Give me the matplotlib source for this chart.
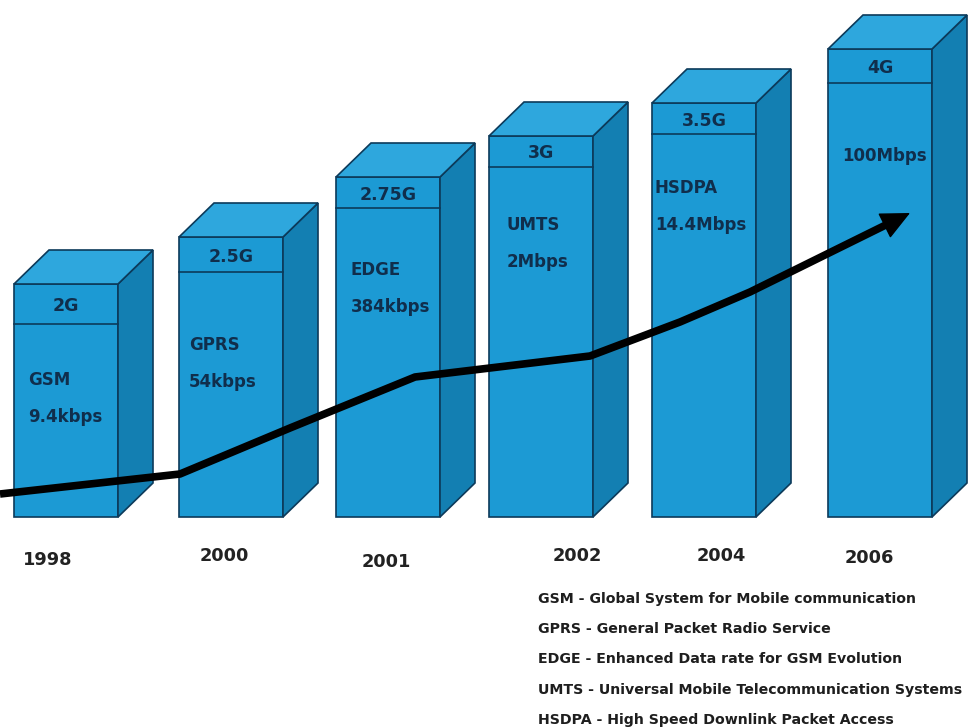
import numpy as np
import matplotlib.pyplot as plt
from matplotlib.patches import Polygon

years = ['1998', '2000', '2001', '2002', '2004', '2006']
generations = ['2G', '2.5G', '2.75G', '3G', '3.5G', '4G']
techs = ['GSM', 'GPRS', 'EDGE', 'UMTS', 'HSDPA', '']
speeds = ['9.4kbps', '54kbps', '384kbps', '2Mbps', '14.4Mbps', '100Mbps']
bar_heights = [233, 280, 340, 381, 414, 468]

trend_x = [0, 180, 290, 415, 590, 680, 750, 910]
trend_y = [23, 43, 89, 140, 161, 195, 225, 304]

legend_lines = [
    'GSM - Global System for Mobile communication',
    'GPRS - General Packet Radio Service',
    'EDGE - Enhanced Data rate for GSM Evolution',
    'UMTS - Universal Mobile Telecommunication Systems',
    'HSDPA - High Speed Downlink Packet Access',
]

# layout (pixels, y measured up from the bar base)
bar_left = [14, 179, 336, 489, 652, 828]
header_h = [40, 35, 31, 31, 31, 34]
text_dx = [14, 10, 15, 18, 3, 14]
text_dy = [96, 108, 93, 89, 85, 107]
year_x = [48, 224, 386, 577, 721, 869]
year_y = [-43, -39, -45, -39, -39, -41]
width = 104
depth_x, depth_y = 35, 34

front_c = '#1c9ad4'
top_c = '#2ea7dd'
side_c = '#137fb2'
edge_c = '#0c3a5a'
text_c = '#102e4c'

fig = plt.figure(figsize=(9.68, 7.28), dpi=100)
ax = fig.add_axes([0, 0, 1, 1])
ax.set_xlim(0, 968)
ax.set_ylim(517 - 728, 517)
ax.axis('off')

for i in range(len(years)):
    xl = bar_left[i]
    xr = xl + width
    h = bar_heights[i]
    front = Polygon([(xl, 0), (xr, 0), (xr, h), (xl, h)], closed=True,
                    facecolor=front_c, edgecolor=edge_c, lw=1.2, zorder=2)
    side = Polygon([(xr, 0), (xr + depth_x, depth_y), (xr + depth_x, h + depth_y), (xr, h)],
                   closed=True, facecolor=side_c, edgecolor=edge_c, lw=1.2, zorder=2)
    top = Polygon([(xl, h), (xl + depth_x, h + depth_y), (xr + depth_x, h + depth_y), (xr, h)],
                  closed=True, facecolor=top_c, edgecolor=edge_c, lw=1.2, zorder=2)
    for p in (front, side, top):
        ax.add_patch(p)
    sep = h - header_h[i]
    ax.plot([xl, xr], [sep, sep], color=edge_c, lw=1.2, zorder=3)
    ax.text((xl + xr) / 2, h - header_h[i] / 2 - 2, generations[i], ha='center', va='center',
            fontsize=12.5, fontweight='bold', color=text_c, zorder=4)
    ty = h - text_dy[i]
    if techs[i]:
        ax.text(xl + text_dx[i], ty, techs[i], ha='left', va='center',
                fontsize=12, fontweight='bold', color=text_c, zorder=4)
        ax.text(xl + text_dx[i], ty - 37, speeds[i], ha='left', va='center',
                fontsize=12, fontweight='bold', color=text_c, zorder=4)
    else:
        ax.text(xl + text_dx[i], ty, speeds[i], ha='left', va='center',
                fontsize=12, fontweight='bold', color=text_c, zorder=4)
    ax.text(year_x[i], year_y[i], years[i], ha='center', va='center',
            fontsize=12.8, fontweight='bold', color='#222222')

# trend arrow: thick line stopping short of the tip, solid triangular head
tip = np.array([trend_x[-1], trend_y[-1]], dtype=float)
prev = np.array([trend_x[-2], trend_y[-2]], dtype=float)
u = (tip - prev) / np.linalg.norm(tip - prev)
base = tip - u * 20
line_x = trend_x[:-1] + [base[0]]
line_y = trend_y[:-1] + [base[1]]
ax.plot(line_x, line_y, color='black', lw=5.5, solid_capstyle='butt',
        solid_joinstyle='round', zorder=5)
ax.annotate('', xy=tuple(tip), xytext=tuple(tip - u * 40),
            arrowprops=dict(arrowstyle='-|>,head_length=0.95,head_width=0.45', color='black',
                            lw=1, shrinkA=0, shrinkB=0, mutation_scale=20), zorder=6)

for k, line in enumerate(legend_lines):
    ax.text(538, 517 - 599 - k * 30.2, line, ha='left', va='center',
            fontsize=10.2, fontweight='bold', color='#1e1e1e')

fig.savefig('out.png', dpi=100, facecolor='white')
